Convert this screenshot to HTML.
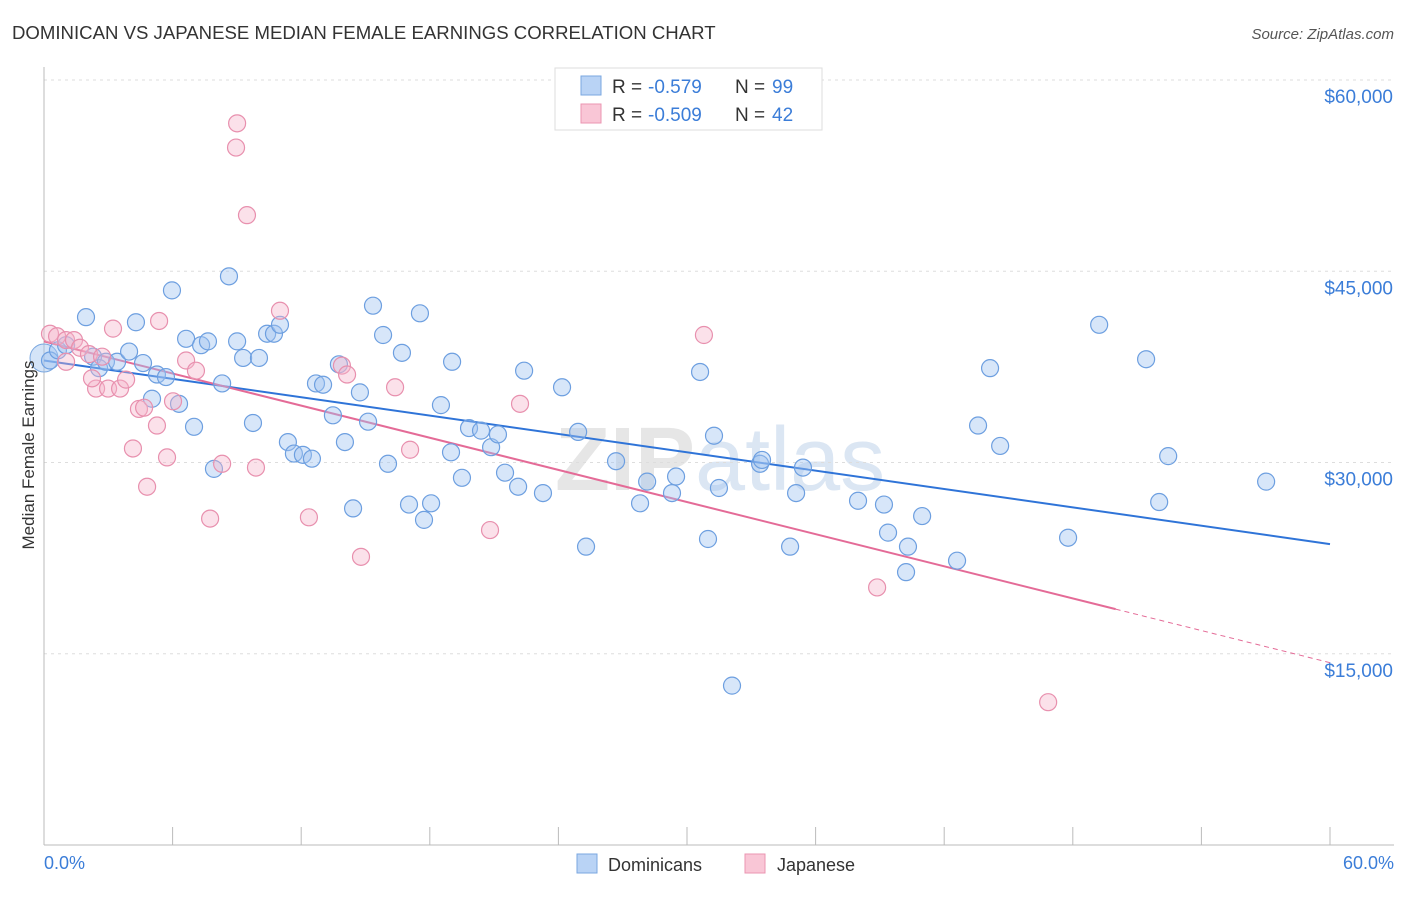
<!DOCTYPE html>
<html><head><meta charset="utf-8"><style>
body{margin:0;background:#fff;font-family:"Liberation Sans",sans-serif}
svg text{font-family:"Liberation Sans",sans-serif}
</style></head><body>
<svg id="chart" width="1406" height="892" xmlns="http://www.w3.org/2000/svg">
<text x="12" y="39" font-size="18.6" fill="#333">DOMINICAN VS JAPANESE MEDIAN FEMALE EARNINGS CORRELATION CHART</text>
<text x="1394" y="39" font-size="15" fill="#555" text-anchor="end" font-style="italic">Source: ZipAtlas.com</text>
<text x="555" y="490" font-size="90" fill="#e6e6e6" font-weight="bold">ZIP<tspan fill="#dbe6f3" font-weight="normal">atlas</tspan></text>
<g id="grid"></g><g id="axes"></g><g id="lines"></g><g id="pts"></g>
<text transform="translate(34,455) rotate(-90)" font-size="17" fill="#333" text-anchor="middle">Median Female Earnings</text>
<text x="44" y="869" font-size="18" fill="#3b7dd8">0.0%</text>
<text x="1394" y="869" font-size="18" fill="#3b7dd8" text-anchor="end">60.0%</text>
<g>
<rect x="555" y="68" width="267" height="62" fill="#fff" stroke="#ddd"/>
<rect x="581" y="76" width="20" height="19" fill="#b9d3f5" stroke="#7aa7e0"/>
<rect x="581" y="104" width="20" height="19" fill="#f9c6d6" stroke="#eb95b1"/>
<text x="612" y="93" font-size="19" fill="#333">R = </text>
<text x="648" y="93" font-size="19" fill="#3b7dd8">-0.579</text>
<text x="735" y="93" font-size="19" fill="#333">N = </text>
<text x="772" y="93" font-size="19" fill="#3b7dd8">99</text>
<text x="612" y="121" font-size="19" fill="#333">R = </text>
<text x="648" y="121" font-size="19" fill="#3b7dd8">-0.509</text>
<text x="735" y="121" font-size="19" fill="#333">N = </text>
<text x="772" y="121" font-size="19" fill="#3b7dd8">42</text>
</g>
<g>
<rect x="577" y="854" width="20" height="19" fill="#b9d3f5" stroke="#7aa7e0"/>
<text x="608" y="871" font-size="18" fill="#333">Dominicans</text>
<rect x="745" y="854" width="20" height="19" fill="#f9c6d6" stroke="#eb95b1"/>
<text x="777" y="871" font-size="18" fill="#333">Japanese</text>
</g>
</svg>
<script>
const yTicks=[15000,30000,45000,60000];
const yTickLabels=["$15,000","$30,000","$45,000","$60,000"];
const xTicks=[0,6,12,18,24,30,36,42,48,54,60];
const domX=[0.28,0.65,1.03,1.96,2.29,2.57,2.89,3.41,3.97,4.29,4.62,5.04,5.27,5.69,5.97,6.30,6.63,7.00,7.33,7.65,7.93,8.31,8.63,9.01,9.29,9.75,10.03,10.41,10.73,11.01,11.38,11.66,12.08,12.50,12.69,13.02,13.48,13.76,14.04,14.42,14.74,15.12,15.35,15.82,16.05,16.70,17.03,17.54,17.73,18.06,18.52,18.99,19.04,19.50,19.83,20.39,20.86,21.18,21.51,22.12,22.40,23.28,24.17,24.92,25.29,26.69,27.81,28.14,29.30,29.49,30.61,30.98,31.26,31.49,32.10,33.41,33.50,34.81,35.09,35.41,37.98,39.19,39.38,40.31,40.22,40.97,42.60,43.58,44.14,44.61,47.78,49.23,51.42,52.03,52.45,57.02];
const domY=[38.0,38.8,39.2,41.4,38.3,37.4,37.9,37.9,38.7,41.0,37.8,35.0,36.9,36.7,43.5,34.6,39.7,32.8,39.2,39.5,29.5,36.2,44.6,39.5,38.2,33.1,38.2,40.1,40.1,40.8,31.6,30.7,30.6,30.3,36.2,36.1,33.7,37.7,31.6,26.4,35.5,33.2,42.3,40.0,29.9,38.6,26.7,41.7,25.5,26.8,34.5,30.8,37.9,28.8,32.7,32.5,31.2,32.2,29.2,28.1,37.2,27.6,35.9,32.4,23.4,30.1,26.8,28.5,27.6,28.9,37.1,24.0,32.1,28.0,12.5,29.9,30.2,23.4,27.6,29.6,27.0,26.7,24.5,23.4,21.4,25.8,22.3,32.9,37.4,31.3,24.1,40.8,38.1,26.9,30.5,28.5];
const japX=[0.28,0.61,1.03,1.40,1.68,2.10,2.43,2.71,2.99,3.22,3.55,3.83,4.15,4.43,4.67,4.81,5.27,5.37,5.74,6.02,6.63,7.09,7.75,8.31,9.01,8.96,9.47,9.89,11.01,12.36,13.90,14.14,14.79,16.38,17.08,20.81,22.21,30.79,38.87,46.85,2.24,1.03];
const japY=[40.1,39.9,39.6,39.6,39.0,38.5,35.8,38.3,35.8,40.5,35.8,36.5,31.1,34.2,34.3,28.1,32.9,41.1,30.4,34.8,38.0,37.2,25.6,29.9,56.6,54.7,49.4,29.6,41.9,25.7,37.6,36.9,22.6,35.9,31.0,24.7,34.6,40.0,20.2,11.2,36.6,37.9];
const domLine=[38.0,23.6];
const japLine=[39.5,18.5,50];
const X=v=>44+v*(1286/60);
const Y=v=>845-v*1000*(765/60000);
const NS="http://www.w3.org/2000/svg";
function mk(p,t,a){const e=document.createElementNS(NS,t);for(const k in a)e.setAttribute(k,a[k]);document.getElementById(p).appendChild(e);return e;}
yTicks.forEach((t,i)=>{
 const g=mk('grid','line',{x1:44,x2:1394,y1:Y(t/1000),y2:Y(t/1000),stroke:'#ddd','stroke-dasharray':'3,4'});
 
 
 const tx=mk('axes','text',{x:1393,y:Y(t/1000)+23,'font-size':19,fill:'#3b7dd8','text-anchor':'end'});
 tx.textContent=yTickLabels[i];
 
 
});
let ax=mk('axes','line',{x1:44,x2:44,y1:67,y2:845,stroke:'#bbb'});


let bx=mk('axes','line',{x1:44,x2:1394,y1:845,y2:845,stroke:'#bbb'});


xTicks.forEach(t=>{
 const l=mk('axes','line',{x1:X(t),x2:X(t),y1:827,y2:845,stroke:'#bbb'});
 
 
});
const bl=mk('lines','line',{x1:X(0),y1:Y(domLine[0]),x2:X(60),y2:Y(domLine[1]),stroke:'#2f74d8','stroke-width':2});


const slope=(japLine[1]-japLine[0])/japLine[2];
const pl=mk('lines','line',{x1:X(0),y1:Y(japLine[0]),x2:X(japLine[2]),y2:Y(japLine[1]),stroke:'#e46b97','stroke-width':2});


const pd=mk('lines','line',{x1:X(japLine[2]),y1:Y(japLine[1]),x2:X(60),y2:Y(japLine[0]+slope*60),stroke:'#e46b97','stroke-width':1,'stroke-dasharray':'5,4'});


const big=mk('pts','circle',{cx:X(0),cy:Y(38.2),r:14,fill:'rgba(160,195,240,0.45)',stroke:'#7aa7e0'});


domX.forEach((v,i)=>{
 const c=mk('pts','circle',{cx:X(v),cy:Y(domY[i]),r:8.5,fill:'rgba(160,195,240,0.42)',stroke:'#6d9fe0','stroke-width':1.2});
 
 
});
japX.forEach((v,i)=>{
 const c=mk('pts','circle',{cx:X(v),cy:Y(japY[i]),r:8.5,fill:'rgba(246,180,202,0.4)',stroke:'#e890ae','stroke-width':1.2});
 
 
});
</script>
</body></html>
